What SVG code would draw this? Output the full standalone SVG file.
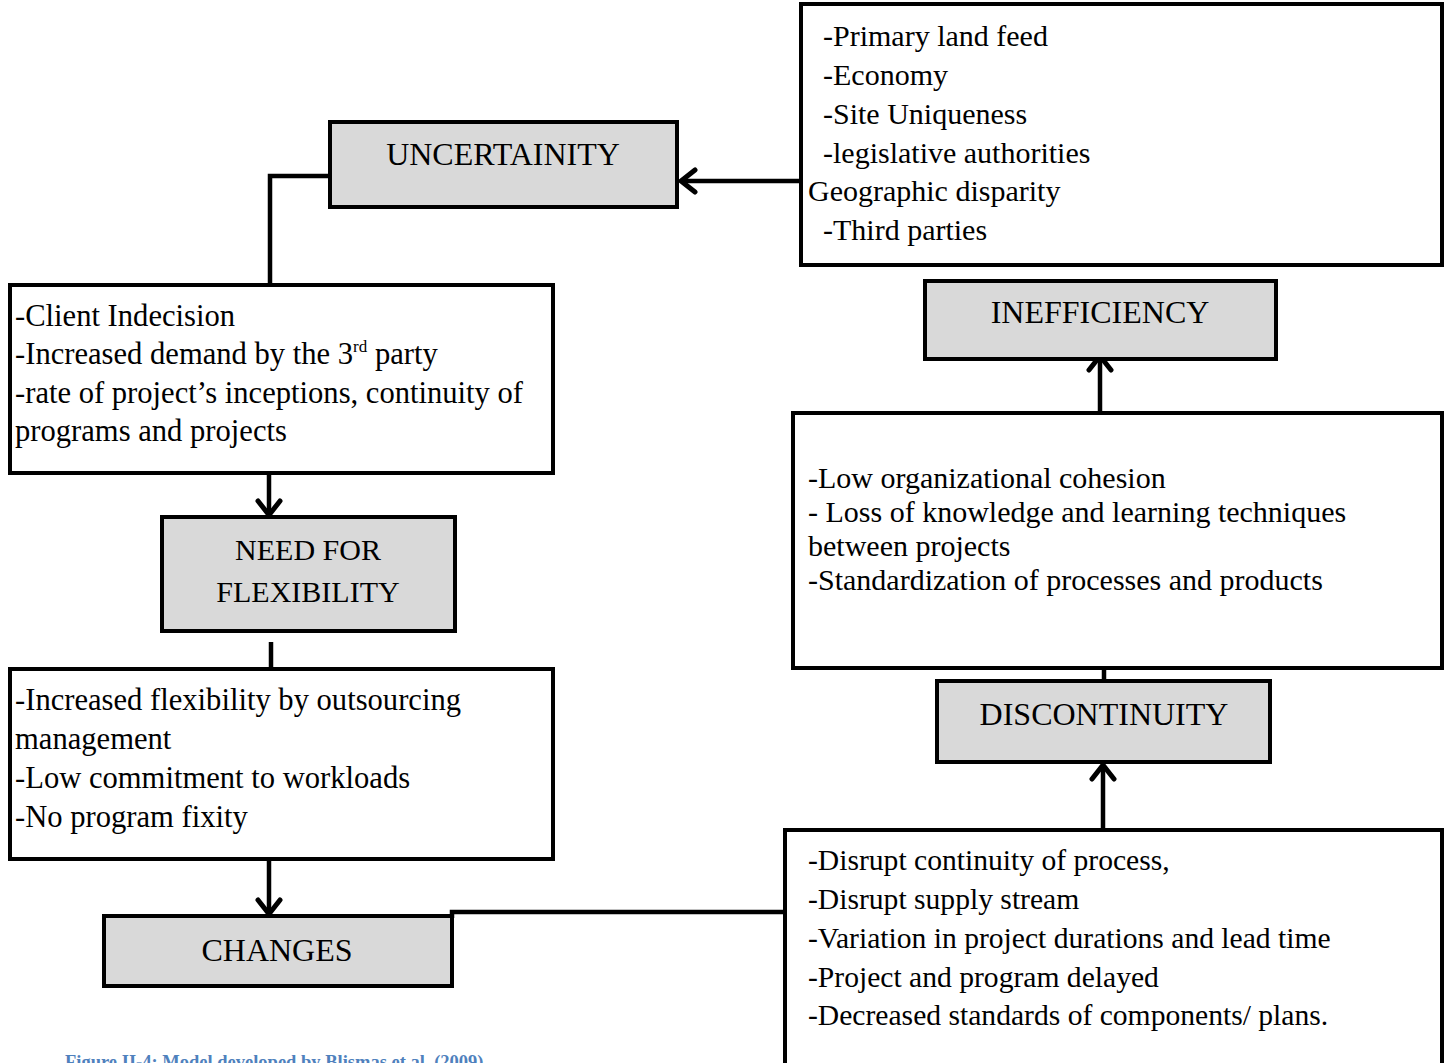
<svg xmlns="http://www.w3.org/2000/svg" width="1449" height="1063" viewBox="0 0 1449 1063">
  <style>
    .box { fill: #ffffff; stroke: #000000; stroke-width: 4; }
    .head { fill: #d9d9d9; stroke: #000000; stroke-width: 4; }
    .t { font-family: "Liberation Serif", "Times New Roman", serif; font-size: 30px; fill: #000000; }
    .l { font-size: 30.6px; }
    .r { font-size: 29.6px; }
    .h { font-size: 32px; text-anchor: middle; }
    .h2 { font-size: 30px; }
    .wire { fill: none; stroke: #000000; stroke-width: 4.5; }
    .cap { font-family: "Liberation Serif", "Times New Roman", serif; font-size: 18.5px; font-weight: bold; fill: #4f81bd; }
  </style>
  <defs>
    <marker id="chev" markerUnits="userSpaceOnUse" viewBox="-20 -15 24 30" refX="0" refY="0" markerWidth="24" markerHeight="30" orient="auto">
      <path d="M-14,-11 L0,0 L-14,11" fill="none" stroke="#000000" stroke-width="5" stroke-linecap="round" stroke-linejoin="miter"/>
    </marker>
  </defs>
  <rect width="1449" height="1063" fill="#ffffff"/>

  <!-- connectors -->
  <g id="connectors">
    <path class="wire" d="M801,181 H681" marker-end="url(#chev)"/>
    <path class="wire" d="M330,176 H270 V285"/>
    <path class="wire" d="M269,473 V515" marker-end="url(#chev)"/>
    <path class="wire" d="M271,642 V669"/>
    <path class="wire" d="M269,859 V914" marker-end="url(#chev)"/>
    <path class="wire" d="M452,918 V912 H785"/>
    <path class="wire" d="M1103,830 V765" marker-end="url(#chev)"/>
    <path class="wire" d="M1104,643 V688"/>
    <path class="wire" d="M1100,413 V356" marker-end="url(#chev)"/>
  </g>

  <!-- external factors -->
  <g id="factors">
    <rect class="box" x="801" y="4" width="641" height="261"/>
    <text class="t" x="823" y="46">-Primary land feed</text>
    <text class="t" x="823" y="85">-Economy</text>
    <text class="t" x="823" y="124">-Site Uniqueness</text>
    <text class="t" x="823" y="163">-legislative authorities</text>
    <text class="t" x="808" y="201">Geographic disparity</text>
    <text class="t" x="823" y="240">-Third parties</text>
  </g>

  <g id="uncertainity">
    <rect class="head" x="330" y="122" width="347" height="85"/>
    <text class="t h" x="503" y="165">UNCERTAINITY</text>
  </g>

  <g id="client">
    <rect class="box" x="10" y="285" width="543" height="188"/>
    <text class="t l" x="15" y="326">-Client Indecision</text>
    <text class="t l" x="15" y="364">-Increased demand by the 3<tspan font-size="17" dy="-12">rd</tspan><tspan dy="12"> party</tspan></text>
    <text class="t l" x="15" y="403">-rate of project’s inceptions, continuity of</text>
    <text class="t l" x="15" y="441">programs and projects</text>
  </g>

  <g id="need-flexibility">
    <rect class="head" x="162" y="517" width="293" height="114"/>
    <text class="t h h2" x="308" y="560">NEED FOR</text>
    <text class="t h h2" x="308" y="602">FLEXIBILITY</text>
  </g>

  <g id="flexibility-means">
    <rect class="box" x="10" y="669" width="543" height="190"/>
    <text class="t l" x="15" y="710">-Increased flexibility by outsourcing</text>
    <text class="t l" x="15" y="749">management</text>
    <text class="t l" x="15" y="788">-Low commitment to workloads</text>
    <text class="t l" x="15" y="827">-No program fixity</text>
  </g>

  <g id="changes">
    <rect class="head" x="104" y="916" width="348" height="70"/>
    <text class="t h" x="277" y="961">CHANGES</text>
  </g>

  <g id="effects">
    <rect class="box" x="785" y="830" width="657" height="250"/>
    <text class="t r" x="808" y="870">-Disrupt continuity of process,</text>
    <text class="t r" x="808" y="909">-Disrupt supply stream</text>
    <text class="t r" x="808" y="948">-Variation in project durations and lead time</text>
    <text class="t r" x="808" y="987">-Project and program delayed</text>
    <text class="t r" x="808" y="1025">-Decreased standards of components/ plans.</text>
  </g>

  <g id="discontinuity">
    <rect class="head" x="937" y="681" width="333" height="81"/>
    <text class="t h" x="1104" y="725">DISCONTINUITY</text>
  </g>

  <g id="organisation">
    <rect class="box" x="793" y="413" width="649" height="255"/>
    <text class="t" x="808" y="488">-Low organizational cohesion</text>
    <text class="t" x="808" y="522">- Loss of knowledge and learning techniques</text>
    <text class="t" x="808" y="556">between projects</text>
    <text class="t" x="808" y="590">-Standardization of processes and products</text>
  </g>

  <g id="inefficiency">
    <rect class="head" x="925" y="281" width="351" height="78"/>
    <text class="t h" x="1100" y="323">INEFFICIENCY</text>
  </g>

  <text class="cap" x="65" y="1068">Figure II-4: Model developed by Blismas et al. (2009)</text>
</svg>
